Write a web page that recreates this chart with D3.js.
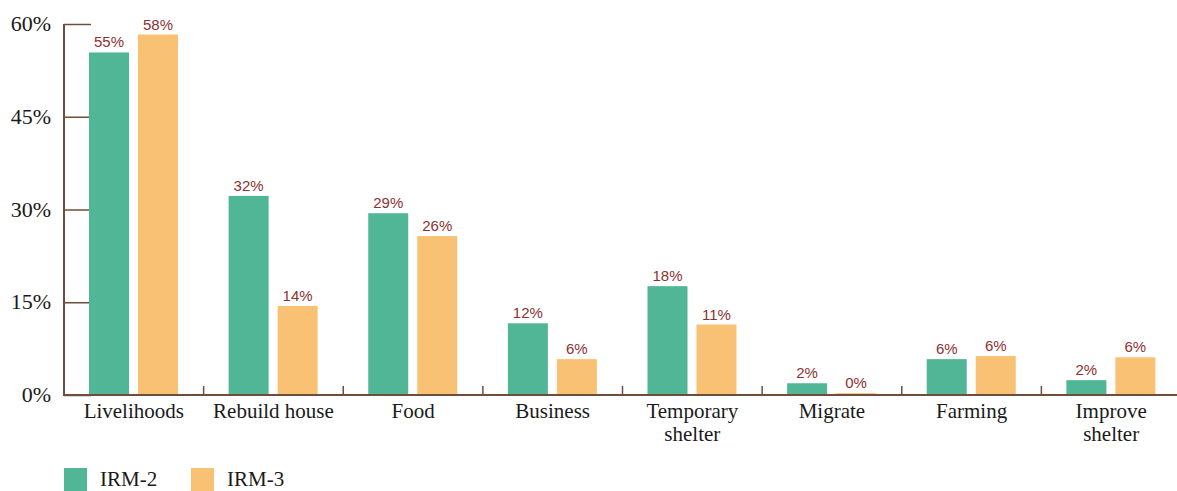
<!DOCTYPE html>
<html>
<head>
<meta charset="utf-8">
<script src="https://cdn.jsdelivr.net/npm/d3@7"></script>
<style>
  html, body { margin: 0; padding: 0; background: #fff; }
  svg { display: block; }
</style>
</head>
<body>
<svg id="chart" width="1177" height="491"></svg>
<script>
// Reasons given for spending, share of respondents by survey round
const categories = [["Livelihoods"], ["Rebuild house"], ["Food"], ["Business"],
                    ["Temporary", "shelter"], ["Migrate"], ["Farming"], ["Improve", "shelter"]];
const irm2 = [55.4, 32.2, 29.4, 11.6, 17.6, 1.9, 5.8, 2.4];
const irm3 = [58.3, 14.4, 25.7, 5.8, 11.4, 0.3, 6.3, 6.1];
const seriesNames = ["IRM-2", "IRM-3"];
const seriesColors = ["#51b696", "#f9c174"];
const yTicks = [0, 15, 30, 45, 60];

const svg = d3.select("#chart");
const axisColor = "#6f4d3c";
const labelColor = "#8c3132";
const serif = "'Liberation Serif', 'DejaVu Serif', serif";
const sans = "'Liberation Sans', Arial, sans-serif";

const x0 = 64, x1 = 1181, yBase = 395, yTop = 24;

const x = d3.scaleBand().domain(d3.range(categories.length)).range([x0, x1]);
const y = d3.scaleLinear().domain([0, 60]).range([yBase, yTop]);

// y axis: inward ticks, drawn beneath the bars
const yAxis = svg.append("g").attr("transform", `translate(${x0},0)`)
  .call(d3.axisRight(y).tickValues(yTicks).tickSize(27).tickFormat(""));
yAxis.select(".domain").remove();
yAxis.selectAll(".tick line").attr("stroke", axisColor).attr("stroke-width", 1.5);

svg.append("g").selectAll("text").data(yTicks).join("text")
  .attr("x", 51).attr("y", d => y(d) + 7)
  .attr("text-anchor", "end")
  .attr("font-family", serif).attr("font-size", 22).attr("fill", "#1a1a1a")
  .text(d => d + "%");

// bars
const barW = 40, gap = 9, pad = 25;
const series = [irm2, irm3];
series.forEach((vals, si) => {
  const g = svg.append("g");
  g.selectAll("rect").data(vals).join("rect")
    .attr("x", (d, i) => x(i) + pad + si * (barW + gap))
    .attr("y", d => y(d))
    .attr("width", barW)
    .attr("height", d => yBase - y(d))
    .attr("fill", seriesColors[si]);
  g.selectAll("text").data(vals).join("text")
    .attr("x", (d, i) => x(i) + pad + si * (barW + gap) + barW / 2)
    .attr("y", d => y(d) - 5)
    .attr("text-anchor", "middle")
    .attr("font-family", sans).attr("font-size", 15).attr("fill", labelColor)
    .text(d => Math.round(d) + "%");
});

// x axis line and category separators
const xAxis = svg.append("g");
xAxis.append("line")
  .attr("x1", x0).attr("x2", x1).attr("y1", yBase).attr("y2", yBase)
  .attr("stroke", axisColor).attr("stroke-width", 2);
xAxis.selectAll("line.sep").data(d3.range(1, categories.length + 1)).join("line")
  .attr("class", "sep")
  .attr("x1", i => x0 + i * x.step()).attr("x2", i => x0 + i * x.step())
  .attr("y1", yBase - 9).attr("y2", yBase)
  .attr("stroke", axisColor).attr("stroke-width", 1.5);
svg.append("line")
  .attr("x1", x0).attr("x2", x0).attr("y1", yTop).attr("y2", yBase + 1)
  .attr("stroke", axisColor).attr("stroke-width", 2);

// category labels, each line its own text element
const catLines = categories.flatMap((lines, i) => lines.map((t, j) => ({ t, i, j })));
svg.append("g").selectAll("text").data(catLines).join("text")
  .attr("x", d => x(d.i) + x.bandwidth() / 2)
  .attr("y", d => 418 + d.j * 23)
  .attr("text-anchor", "middle")
  .attr("font-family", serif).attr("font-size", 21).attr("fill", "#1a1a1a")
  .text(d => d.t);

// legend
const legend = svg.append("g");
seriesNames.forEach((name, i) => {
  const lx = 64 + i * 127;
  legend.append("rect").attr("x", lx).attr("y", 468).attr("width", 23).attr("height", 23)
    .attr("fill", seriesColors[i]);
  legend.append("text").attr("x", lx + 36).attr("y", 486)
    .attr("font-family", serif).attr("font-size", 21).attr("fill", "#1a1a1a")
    .text(name);
});
</script>
</body>
</html>
